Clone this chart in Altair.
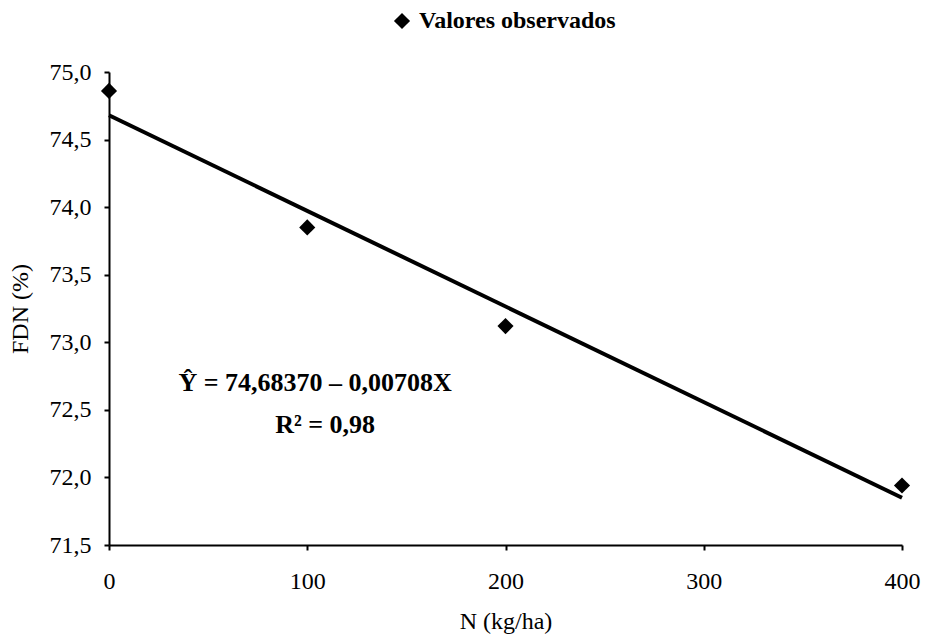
import altair as alt
import pandas as pd

obs_x = [0, 100, 200, 400]
obs_y = [74.86, 73.85, 73.12, 71.94]
# Fitted line end values
fit_x = [0, 400]
fit_y = [74.68, 71.85]
# Axis ticks
x_ticks = [0, 100, 200, 300, 400]
y_ticks = [71.5, 72.0, 72.5, 73.0, 73.5, 74.0, 74.5, 75.0]
legend_label = "Valores observados"
# Equation annotation
eq_text = ["Ŷ = 74,68370 – 0,00708X", "R² = 0,98"]
eq_x = [104, 109]
eq_y = [72.70, 72.39]

FONT = "Liberation Serif"

obs = pd.DataFrame({"x": obs_x, "y": obs_y, "serie": [legend_label] * len(obs_x)})
fit = pd.DataFrame({"x": fit_x, "y": fit_y})
eq = pd.DataFrame({"x": eq_x, "y": eq_y, "t": eq_text})

xscale = alt.Scale(domain=[0, 400], nice=False, zero=False)
yscale = alt.Scale(domain=[71.5, 75.0], nice=False, zero=False)

xaxis = alt.Axis(values=x_ticks, title="N (kg/ha)", labelPadding=19, titlePadding=16,
                 labelFlush=False, labelOverlap=False)
yaxis = alt.Axis(values=y_ticks, title="FDN (%)",
                 labelExpr="replace(format(datum.value, '.1f'), '.', ',')",
                 labelPadding=13, titlePadding=17, labelFlush=False, labelOverlap=False)

line = alt.Chart(fit).mark_line(color="black", strokeWidth=4).encode(
    x=alt.X("x:Q", scale=xscale, axis=xaxis),
    y=alt.Y("y:Q", scale=yscale, axis=yaxis),
)

pts = alt.Chart(obs).mark_point(filled=True, size=260, shape="diamond", opacity=1).encode(
    x=alt.X("x:Q", scale=xscale),
    y=alt.Y("y:Q", scale=yscale),
    color=alt.Color("serie:N", scale=alt.Scale(domain=[legend_label], range=["black"]),
                    legend=alt.Legend(title=None, orient="none", legendX=281, legendY=-63,
                                      labelOffset=5, padding=0, labelFont=FONT,
                                      labelFontSize=24, labelFontWeight="bold",
                                      symbolType="diamond")),
)

txt = alt.Chart(eq).mark_text(font=FONT, fontSize=26, fontWeight="bold", color="black",
                              align="center", baseline="middle").encode(
    x=alt.X("x:Q", scale=xscale),
    y=alt.Y("y:Q", scale=yscale),
    text="t:N",
)

chart = alt.layer(line, pts, txt).properties(
    width=793, height=473,
    padding={"left": 101, "top": 64, "right": 23, "bottom": 89},
    autosize=alt.AutoSizeParams(type="none"),
    background="white",
).configure(
    font=FONT,
    style={"guide-label": {"font": FONT}, "guide-title": {"font": FONT}},
).configure_view(stroke=None).configure_axis(
    grid=False, domainColor="black", domainWidth=2, tickColor="black", tickWidth=2, tickSize=5,
    labelFont=FONT, labelFontSize=24, labelColor="black",
    titleFont=FONT, titleFontSize=24, titleFontWeight="normal", titleColor="black",
).configure_legend(
    labelFont=FONT, labelFontSize=24, labelFontWeight="bold", labelColor="black", labelLimit=0,
    symbolSize=260, symbolType="diamond", symbolStrokeWidth=0, symbolOpacity=1,
    symbolFillColor="black",
)

chart.save("out.html", embed_options={"renderer": "svg", "actions": False})
